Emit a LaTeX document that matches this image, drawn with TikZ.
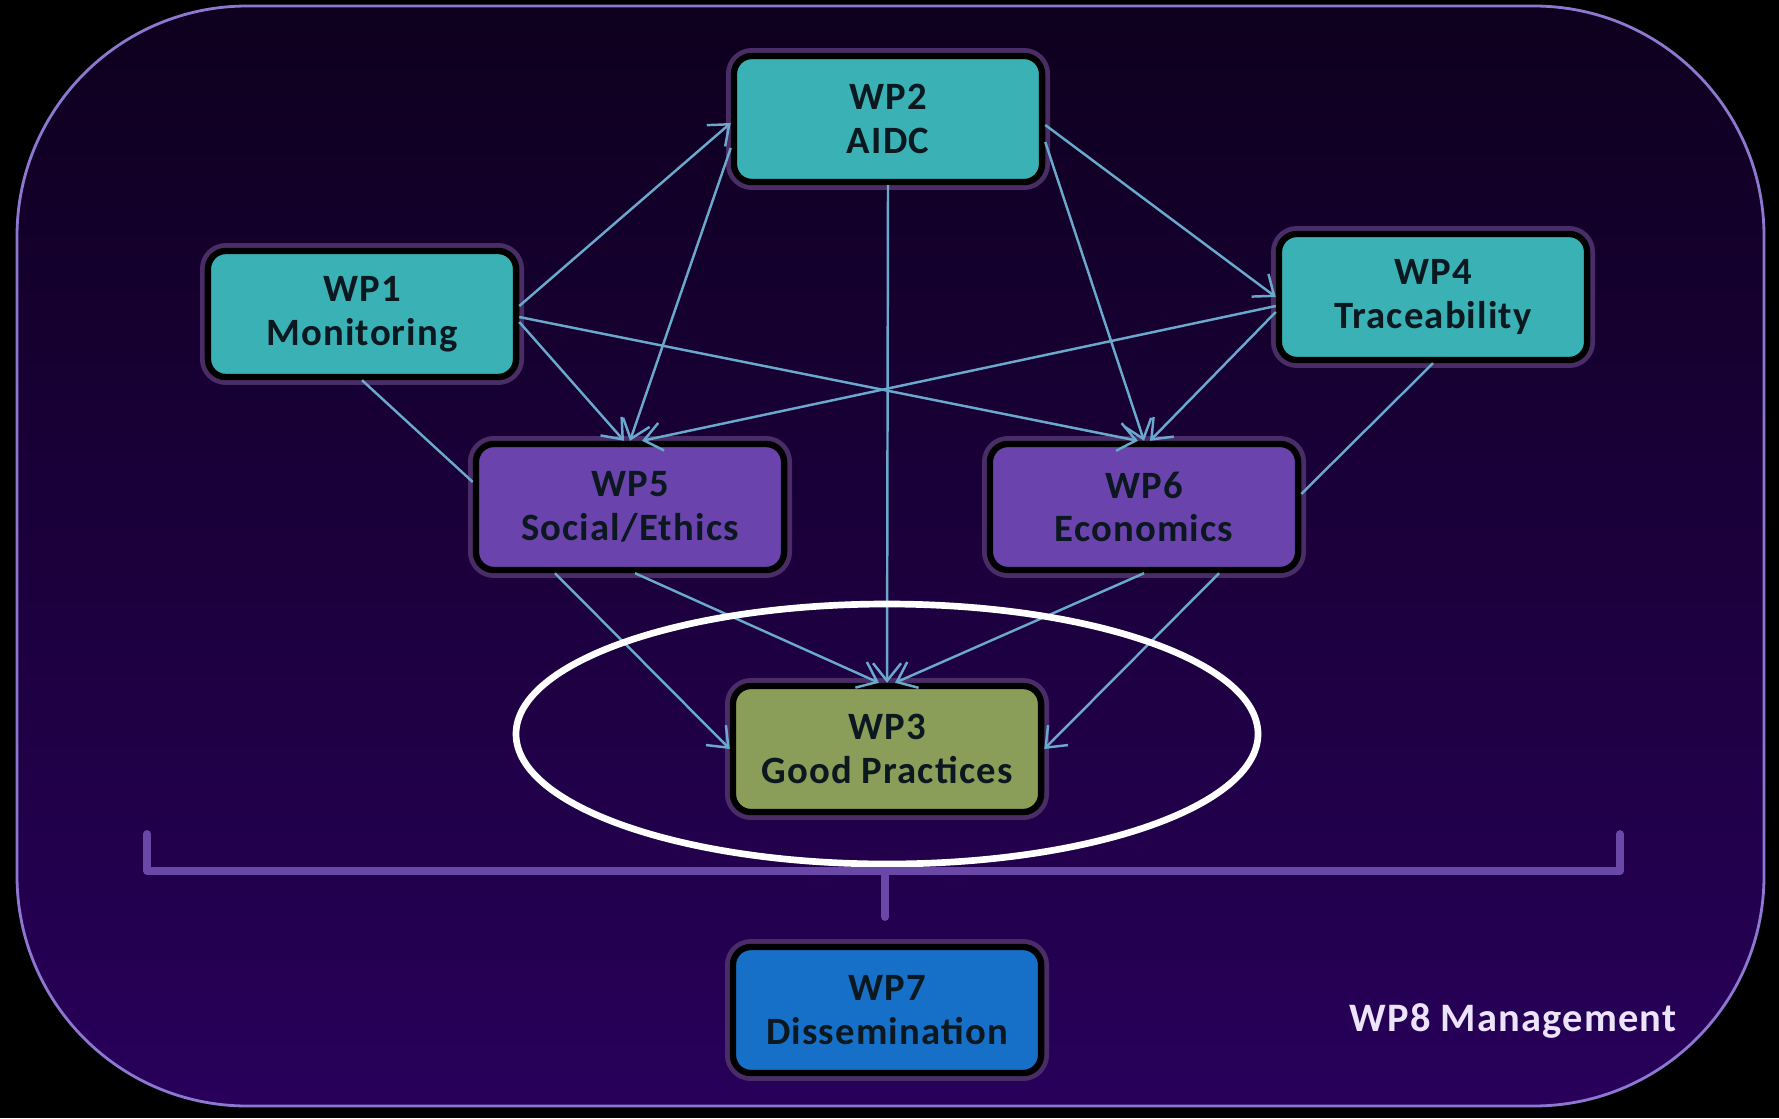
\documentclass[tikz,border=0pt]{standalone}
\usepackage{xcolor}
\usepackage{fontspec}
\usepackage{tikz}
\usetikzlibrary{shapes,arrows.meta,positioning,calc}

\newfontfamily\wpfont{Carlito}[LetterSpace=3.0]

\definecolor{bgtop}{HTML}{0E001E}
\definecolor{bgbot}{HTML}{28005A}
\definecolor{frame}{HTML}{8C78D0}
\definecolor{teal}{HTML}{3AB1B5}
\definecolor{grape}{HTML}{6A44AC}
\definecolor{olive}{HTML}{8A9E5A}
\definecolor{ocean}{HTML}{1670C8}
\definecolor{boxtext}{HTML}{0C1820}
\definecolor{boxglow}{HTML}{4A2C66}
\definecolor{wire}{HTML}{6AA8CC}
\definecolor{brace}{HTML}{6A48A8}
\definecolor{mgmttext}{HTML}{ECE4FA}

\begin{document}
\begin{tikzpicture}[
        x=0.01cm, y=-0.01cm,
        % Define styles for different components
        box/.style={
            draw=black,
            rectangle,
            minimum width=3.08cm,
            minimum height=1.26cm,
            line width=1.8pt,
            rounded corners=0.18cm,
            align=center,
            text=boxtext,
            font={\wpfont\bfseries\fontsize{11}{12.4}\selectfont},
            preaction={draw=boxglow, line width=4.5pt}
        },
        techwp/.style={
            box,
            fill=teal
        },
        studywp/.style={
            box,
            fill=grape
        },
        practicewp/.style={
            box,
            fill=olive
        },
        outreachwp/.style={
            box,
            fill=ocean
        },
        arrow/.style={
            -{Straight Barb[length=5pt,width=8pt]},
            draw=wire,
            line width=0.7pt
        },
        link/.style={
            draw=wire,
            line width=0.7pt
        },
        ring/.style={
            draw=white,
            line width=1.9pt
        },
        bracket/.style={
            draw=brace,
            line width=2.2pt,
            line cap=round,
            line join=round
        },
        mgmt/.style={
            text=mgmttext,
            font={\wpfont\bfseries\fontsize{11.5}{13}\selectfont}
        }
    ]

    % Backdrop
    \fill[black] (0,0) rectangle (1779,1118);
    \path[top color=bgtop, bottom color=bgbot, draw=frame, line width=0.8pt,
        rounded corners=2.3cm] (17,6) rectangle (1764,1106);

    % Place work packages
    \node[techwp] (wp2) at (888,119) {WP2\\AIDC};
    \node[techwp] (wp1) at (362,314) {WP1\\Monitoring};
    \node[techwp] (wp4) at (1433,297) {WP4\\Traceability};
    \node[studywp] (wp5) at (630,507) {WP5\\Social/Ethics};
    \node[studywp] (wp6) at (1144,507) {WP6\\Economics};
    \node[practicewp] (wp3) at (887,749) {WP3\\Good Practices};
    \node[outreachwp] (wp7) at (887,1010) {WP7\\Dissemination};

    % Management label
    \node[mgmt] (wp8) at (1513,1021) {WP8 Management};

    % Draw dependencies
    \draw[arrow] ([yshift=0.08cm]wp1.east) -- ([yshift=-0.04cm]wp2.west);
    \draw[arrow] ([yshift=-0.08cm]wp1.east) -- ([xshift=-0.06cm]wp5.north);
    \draw[arrow] ([yshift=-0.03cm]wp1.east) -- ([xshift=-0.06cm]wp6.north);
    \draw[arrow] ([yshift=-0.29cm]wp2.west) -- (wp5.north);
    \draw[arrow] ([yshift=-0.06cm]wp2.east) -- (wp4.west);
    \draw[arrow] ([yshift=-0.23cm]wp2.east) -- (wp6.north);
    \draw[arrow] ([yshift=-0.09cm]wp4.west) -- ([xshift=0.12cm]wp5.north);
    \draw[arrow] ([yshift=-0.15cm]wp4.west) -- ([xshift=0.06cm]wp6.north);
    \draw[arrow] (wp2.south) -- (wp3.north);
    \draw[arrow] ([xshift=-0.75cm]wp5.south) -- (wp3.west);
    \draw[arrow] ([xshift=0.05cm]wp5.south) -- ([xshift=-0.08cm]wp3.north);
    \draw[arrow] (wp6.south) -- ([xshift=0.08cm]wp3.north);
    \draw[arrow] ([xshift=0.75cm]wp6.south) -- (wp3.east);
    \draw[link] (wp1.south) -- ([yshift=0.25cm]wp5.west);
    \draw[link] (wp4.south) -- ([yshift=0.13cm]wp6.east);

    % Highlight on WP3
    \draw[ring] (887,734) ellipse [x radius=371, y radius=130];

    % Bracket feeding dissemination
    \coordinate (bl) at (147,834);
    \coordinate (br) at (1620,834);
    \coordinate (stub) at (885,917);
    \draw[bracket] (bl) -- (bl |- 0,871) -- (br |- 0,871) -- (br);
    \draw[bracket] (stub |- 0,871) -- (stub);

\end{tikzpicture}
\end{document}
